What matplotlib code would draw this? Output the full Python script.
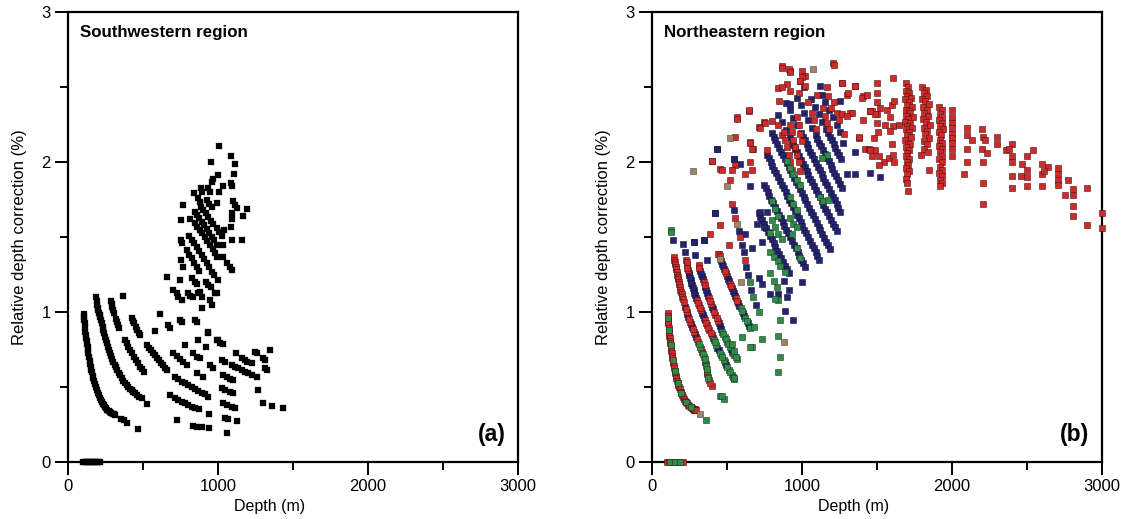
import matplotlib
matplotlib.use("Agg")
import matplotlib.pyplot as plt
from matplotlib.ticker import MultipleLocator

plt.rcParams['font.family'] = ['Liberation Sans', 'DejaVu Sans']

# ---------------- Southwestern region (a) ----------------
sw_curve1_depth = [105, 107, 109, 111, 113, 116, 118, 121, 124, 127, 130, 133, 136, 140, 144,
                   148, 151, 156, 160, 165, 169, 175, 180, 186, 191, 198, 204, 211, 218, 225,
                   232, 240, 247, 255, 263, 272, 280, 289, 297, 305, 313, 355, 372, 395, 469]
sw_curve1_value = [0.99, 0.97, 0.95, 0.925, 0.90, 0.87, 0.85, 0.83, 0.81, 0.79, 0.77, 0.745, 0.724, 0.70, 0.675,
                   0.655, 0.636, 0.615, 0.597, 0.576, 0.558, 0.537, 0.518, 0.498, 0.48, 0.462, 0.447, 0.43, 0.413, 0.40,
                   0.388, 0.378, 0.369, 0.36, 0.35, 0.342, 0.336, 0.329, 0.323, 0.318, 0.313, 0.287, 0.278, 0.262, 0.222]

sw_curve2_depth = [187, 190, 195, 199, 202, 206, 210, 213, 218, 224, 230, 235, 240, 246, 252,
                   258, 265, 272, 280, 287, 295, 302, 311, 320, 329, 338, 348, 358, 368, 380,
                   391, 402, 413, 424, 436, 449, 462, 476, 491, 529]
sw_curve2_value = [1.098, 1.075, 1.045, 1.025, 1.013, 0.995, 0.98, 0.969, 0.948, 0.924, 0.90, 0.88, 0.858, 0.836, 0.813,
                   0.791, 0.768, 0.746, 0.724, 0.705, 0.687, 0.669, 0.65, 0.632, 0.613, 0.596, 0.577, 0.558, 0.543, 0.527,
                   0.513, 0.501, 0.49, 0.48, 0.47, 0.458, 0.447, 0.436, 0.424, 0.387]

sw_curve3_depth = [284, 290, 296, 302, 307, 318, 324, 333, 342, 380, 391, 402, 413, 424, 440, 453, 467, 480, 494, 507, 369]
sw_curve3_value = [1.076, 1.056, 1.036, 1.013, 0.991, 0.955, 0.936, 0.913, 0.891, 0.813, 0.791, 0.769, 0.746, 0.724, 0.70,
                   0.68, 0.658, 0.636, 0.619, 0.602, 1.107]

sw_curve4_depth = [424, 432, 440, 451, 462, 471, 480, 529, 540, 551, 565, 580, 595, 609, 622, 636, 647, 658, 580]
sw_curve4_value = [0.958, 0.94, 0.924, 0.90, 0.88, 0.863, 0.847, 0.78, 0.763, 0.747, 0.73, 0.713, 0.696, 0.68, 0.663,
                   0.647, 0.63, 0.613, 0.876]

sw_mid_depth = [613, 669, 680, 747, 758, 847, 862, 936, 869, 780, 920, 991, 1013, 1031, 1120, 1247, 1258, 1347,
                1158, 1180, 1196, 1224, 1302, 1313, 702, 725, 747, 769, 791, 836, 858, 880, 947, 969, 1024, 1047,
                1091, 1113, 1136, 1158, 1180, 1202, 1224, 1258, 1313, 1324, 858, 902, 1036, 1058, 1080, 1102,
                713, 736, 758, 780, 802, 824, 847, 869, 891, 913, 936, 1024, 1047, 1080, 1102, 1264,
                680, 713, 736, 758, 780, 802, 824, 847, 876, 1036, 1058, 1091, 1113, 1302, 1358, 1436,
                942, 1047, 1069, 1124, 724, 836, 858, 891, 942, 1058, 933, 1002]
sw_mid_value = [0.987, 0.913, 0.891, 0.947, 0.936, 0.947, 0.931, 0.862, 0.813, 0.78, 0.769, 0.813, 0.796, 0.784, 0.724,
                0.736, 0.724, 0.747, 0.691, 0.68, 0.669, 0.658, 0.696, 0.68, 0.724, 0.705, 0.685, 0.665, 0.647, 0.724,
                0.702, 0.691, 0.647, 0.624, 0.68, 0.669, 0.647, 0.636, 0.624, 0.613, 0.602, 0.591, 0.58, 0.564, 0.624,
                0.613, 0.591, 0.564, 0.58, 0.564, 0.551, 0.547,
                0.569, 0.551, 0.536, 0.524, 0.513, 0.502, 0.487, 0.473, 0.462, 0.451, 0.436, 0.491, 0.48, 0.469, 0.458, 0.48,
                0.447, 0.424, 0.413, 0.402, 0.391, 0.38, 0.369, 0.362, 0.353, 0.391, 0.38, 0.369, 0.358, 0.391, 0.373, 0.358,
                0.32, 0.291, 0.284, 0.273, 0.28, 0.242, 0.236, 0.231, 0.224, 0.191, 0.869, 0.813]

sw_upper_depth = [1007, 1084, 1116, 956, 1107, 1002, 964, 958, 1084, 1093, 1036, 1004, 884, 891, 936, 947, 842, 869, 880,
                  924, 942, 958, 996, 1098, 1113, 1124, 1196, 1169, 764,
                  887, 902, 918, 936, 951, 969, 991, 1009, 1024,
                  847, 862, 876, 891, 907, 924, 940, 958, 973, 991,
                  1091, 1091, 751, 813,
                  847, 862, 880, 896, 913, 929, 947, 964, 980, 996,
                  1087, 1042, 1158, 1091, 753, 758,
                  809, 824, 840, 858, 873, 891, 907, 924, 940, 958, 973,
                  791, 809, 824, 840, 858, 873,
                  1036, 1062, 1080, 1091, 1036, 753, 769,
                  829, 847, 862, 920, 936, 951, 1002, 658, 747, 702, 724, 802, 813, 869, 891, 991,
                  736, 758, 836, 880, 891, 947, 958, 980]
sw_upper_value = [2.109, 2.04, 1.987, 1.998, 1.92, 1.913, 1.884, 1.869, 1.858, 1.84, 1.84, 1.802, 1.824, 1.802, 1.824,
                  1.802, 1.791, 1.758, 1.736, 1.747, 1.72, 1.698, 1.729, 1.742, 1.713, 1.691, 1.684, 1.64, 1.713,
                  1.702, 1.68, 1.658, 1.631, 1.609, 1.587, 1.558, 1.536, 1.507,
                  1.669, 1.647, 1.624, 1.602, 1.58, 1.553, 1.529, 1.502, 1.48, 1.447,
                  1.662, 1.618, 1.613, 1.618,
                  1.591, 1.569, 1.547, 1.524, 1.498, 1.476, 1.447, 1.42, 1.391, 1.369,
                  1.569, 1.547, 1.48, 1.48, 1.48, 1.462,
                  1.507, 1.48, 1.458, 1.431, 1.409, 1.38, 1.351, 1.324, 1.302, 1.269, 1.247,
                  1.413, 1.38, 1.358, 1.329, 1.302, 1.276,
                  1.447, 1.324, 1.302, 1.28, 1.369, 1.347, 1.302,
                  1.224, 1.202, 1.187, 1.202, 1.18, 1.164, 1.213, 1.236, 1.213, 1.147, 1.124, 1.124, 1.109, 1.124, 1.102, 1.124,
                  1.102, 1.08, 1.102, 1.136, 1.024, 1.08, 1.047, 1.124]

sw_zero_depth = [100, 110, 120, 130, 140, 150, 160, 170, 180, 190, 200, 210]
sw_zero_value = [0, 0, 0, 0, 0, 0, 0, 0, 0, 0, 0, 0]

# ---------------- Northeastern region (b) ----------------
ne_red_depth = [
    # shallow arcs
    104, 105, 106, 107, 108, 111, 113, 115, 116, 118, 120, 122, 125, 127, 129, 131, 133, 136, 138, 141, 145, 148,
    151, 155, 158, 162, 167, 171, 176, 180, 184, 190, 196, 201, 207, 213, 220, 226, 233, 241, 249, 257, 265, 273,
    280, 288, 296,
    144, 147, 151, 154, 158, 161, 165, 168, 171, 174, 178, 181, 184, 188, 193, 197, 202, 206, 211,
    231, 253, 280, 307, 333, 356, 367, 378, 400, 225, 247, 273, 300, 327, 359, 369, 389,
    229, 233, 240, 300, 313, 327, 353, 367, 382, 398, 231, 236, 306, 320, 360, 374, 390,
    311, 344, 380, 393, 422, 438, 316, 350, 386, 414, 430,
    444, 491, 518, 560, 533, 555, 588, 618, 438, 511, 450, 484, 524, 568,
    # upper-left scatter
    400, 456, 567, 645, 556, 556, 673, 656, 749, 711, 800, 867, 922, 1000, 1022, 1207, 900, 989, 1167, 845,
    866, 910, 921, 999, 988, 1021, 843, 866, 921, 977, 1210, 1265, 1299, 1354, 1409, 1465, 1498,
    644, 566, 721, 755, 655, 666, 766, 399, 466, 655, 621, 666, 533, 843, 866, 521, 388, 455,
    # stripes inside the central cloud
    877, 888, 899, 910, 921, 932, 921, 932, 943, 955, 966, 977, 988, 966, 977, 988, 999,
    1066, 1077, 1090, 1140, 1150, 1165, 1180, 1043, 1100, 1170, 1210, 1230, 1245, 1190,
    1265, 1321, 1377, 1421, 1466, 1488, 1455, 1488,
    # deep cloud
    1266, 1304, 1355, 1399, 1433, 1499, 1604, 1499, 1499, 1522, 1455, 1566, 1599, 1610, 1588, 1333, 1299, 1404,
    1499, 1555, 1606, 1644, 1282, 1382, 1477, 1504, 1588, 1599, 1444, 1455, 1510, 1544, 1510, 1577, 1610, 1606,
    1690, 1705, 1690, 1712, 1700, 1725, 1688, 1715, 1698, 1730, 1690, 1710, 1722, 1695, 1740, 1705, 1688, 1718,
    1700, 1733, 1692, 1712, 1697, 1725, 1688, 1708, 1720, 1693, 1712, 1700, 1690, 1715, 1698, 1708, 1690, 1712,
    1700, 1695, 1702, 1708,
    1802, 1825, 1810, 1832, 1800, 1822, 1845, 1808, 1830, 1815, 1840, 1805, 1825, 1850, 1812, 1835, 1820, 1845,
    1810, 1830, 1815, 1840, 1795, 1844,
    1915, 1930, 1918, 1935, 1912, 1930, 1918, 1938, 1912, 1928, 1920, 1935, 1912, 1930, 1918, 1935, 1915, 1930,
    1918, 1935, 1915, 1930, 1920, 1933, 1920,
    1999, 1999, 1999, 1999, 1999, 1999, 1999, 1999, 1999,
    2099, 2099, 2133, 2099, 2099, 2082, 2199, 2206, 2222, 2199, 2233, 2204, 2204, 2204, 2299, 2299, 2362, 2399,
    2377, 2399, 2399, 2399, 2399, 2466, 2499, 2499, 2499, 2499, 2459, 2539, 2599, 2637, 2599, 2615, 2599, 2704,
    2704, 2704, 2704, 2771, 2755, 2804, 2804, 2804, 2804, 2899, 2899, 3000, 3000,
    # zero-correction wells
    100, 115, 130, 145, 160, 175, 190, 205]
ne_red_value = [
    0.991, 0.975, 0.958, 0.942, 0.925, 0.891, 0.875, 0.858, 0.842, 0.825, 0.808, 0.792, 0.775, 0.758, 0.742, 0.725,
    0.708, 0.692, 0.675, 0.659, 0.642, 0.626, 0.609, 0.592, 0.576, 0.559, 0.542, 0.526, 0.512, 0.499, 0.485, 0.470,
    0.457, 0.444, 0.432, 0.420, 0.410, 0.400, 0.391, 0.382, 0.374, 0.366, 0.359, 0.353, 0.348, 0.346, 0.344,
    1.368, 1.35, 1.334, 1.318, 1.301, 1.285, 1.268, 1.25, 1.235, 1.218, 1.201, 1.185, 1.168, 1.15, 1.135, 1.118,
    1.102, 1.085, 1.068,
    1.002, 0.936, 0.869, 0.803, 0.736, 0.670, 0.603, 0.548, 0.504, 1.018, 0.952, 0.885, 0.819, 0.752, 0.653, 0.586, 0.526,
    1.35, 1.312, 1.279, 1.079, 1.046, 1.013, 0.947, 0.913, 0.880, 0.847, 1.331, 1.295, 1.062, 1.03, 0.93, 0.896, 0.863,
    1.312, 1.201, 1.091, 1.053, 0.980, 0.942, 1.293, 1.183, 1.072, 0.998, 0.961,
    1.39, 1.257, 1.190, 1.091, 1.72, 1.63, 1.50, 1.35, 1.385, 1.445, 1.373, 1.274, 1.174, 1.074,
    2.006, 1.955, 2.298, 2.342, 1.977, 2.17, 2.088, 2.132, 2.265, 2.232, 2.276, 2.641, 2.608, 2.608, 2.575, 2.663,
    2.52, 2.542, 2.497, 2.409,
    2.63, 2.62, 2.60, 2.57, 2.54, 2.51, 2.49, 2.50, 2.47, 2.46, 2.65, 2.53, 2.45, 2.51, 2.44, 2.34, 2.32,
    2.35, 2.29, 2.23, 2.26, 2.13, 2.09, 2.08, 2.01, 1.95, 2.00, 1.92, 1.95, 1.95, 2.25, 2.18, 1.88, 1.52, 1.58,
    2.20, 2.15, 2.10, 2.05, 2.00, 1.95, 2.25, 2.20, 2.15, 2.10, 2.05, 2.00, 1.94, 2.30, 2.25, 2.19, 2.14,
    2.33, 2.28, 2.22, 2.36, 2.31, 2.26, 2.22, 2.40, 2.45, 2.44, 2.40, 2.33, 2.28, 2.36,
    2.32, 2.33, 2.16, 2.09, 2.04, 2.08, 2.34, 2.32,
    2.53, 2.46, 2.51, 2.43, 2.45, 2.53, 2.56, 2.46, 2.40, 2.36, 2.34, 2.35, 2.38, 2.41, 2.30, 2.33, 2.31, 2.28,
    2.26, 2.25, 2.24, 2.25, 2.19, 2.17, 2.16, 2.20, 2.21, 2.12, 2.09, 2.08, 2.04, 2.00, 1.98, 2.03, 2.00, 2.05,
    2.53, 2.50, 2.47, 2.46, 2.44, 2.43, 2.42, 2.40, 2.38, 2.37, 2.35, 2.34, 2.33, 2.31, 2.30, 2.29, 2.27, 2.26,
    2.24, 2.23, 2.22, 2.20, 2.18, 2.17, 2.15, 2.13, 2.12, 2.10, 2.08, 2.06, 2.04, 2.02, 2.00, 1.98, 1.96, 1.94,
    1.92, 1.89, 1.86, 1.81,
    2.50, 2.48, 2.46, 2.44, 2.42, 2.41, 2.39, 2.37, 2.35, 2.33, 2.31, 2.29, 2.27, 2.25, 2.23, 2.21, 2.19, 2.16,
    2.14, 2.12, 2.09, 2.07, 2.05, 1.95,
    2.37, 2.35, 2.32, 2.30, 2.28, 2.26, 2.24, 2.22, 2.20, 2.18, 2.15, 2.13, 2.11, 2.09, 2.07, 2.04, 2.02, 2.00,
    1.97, 1.95, 1.93, 1.91, 1.88, 1.86, 1.84,
    2.35, 2.30, 2.26, 2.23, 2.19, 2.16, 2.13, 2.09, 2.04,
    2.23, 2.18, 2.15, 2.09, 2.00, 1.92, 2.22, 2.17, 2.15, 2.09, 2.06, 2.00, 1.86, 1.72, 2.17, 2.12, 2.08, 2.12,
    2.09, 2.04, 2.00, 1.91, 1.83, 1.99, 2.04, 1.95, 1.90, 1.84, 1.91, 2.08, 1.99, 1.97, 1.92, 1.94, 1.84, 1.96,
    1.92, 1.88, 1.85, 1.88, 1.78, 1.82, 1.78, 1.71, 1.64, 1.83, 1.58, 1.66, 1.56,
    0, 0, 0, 0, 0, 0, 0, 0]

# diagonal bands of the central cloud
ne_band_depth = [
    710, 722, 735, 747, 760, 772, 785, 797, 810, 822, 835, 847, 860, 872, 885, 897, 910,
    745, 757, 770, 782, 795, 807, 820, 832, 845, 857, 870, 882, 895, 907, 920, 932, 945, 957, 970, 982, 995, 1007, 1020,
    765, 777, 790, 802, 815, 827, 840, 852, 865, 877, 890, 902, 915, 927, 940, 952, 965, 977, 990, 1002, 1015, 1027,
    1040, 1052, 1065, 1077, 1090, 1102, 1115,
    797, 810, 822, 835, 847, 860, 872, 885, 897, 910, 922, 935, 947, 960, 972, 985, 997, 1010, 1022, 1035, 1047, 1060,
    1072, 1085, 1097, 1110, 1122, 1135, 1147, 1160, 1172, 1185,
    842, 867, 892, 917, 930, 942, 955, 967, 980, 992, 1005, 1017, 1030, 1042, 1055, 1067, 1080, 1092,
    1105, 1117, 1130, 1142, 1155, 1167, 1180, 1192, 1205, 1217, 1230,
    892, 917, 942, 967, 992, 1005, 1017, 1030, 1042, 1055, 1067, 1080, 1092, 1105, 1117, 1130,
    1142, 1155, 1167, 1180, 1192, 1205, 1217, 1230, 1242, 1255,
    965, 990, 1015, 1040, 1065, 1090, 1102, 1115, 1127, 1140, 1152, 1165, 1177, 1190,
    1202, 1215, 1227, 1240, 1252, 1265,
    1060, 1085, 1110, 1135, 1160, 1172, 1185, 1197, 1210, 1222, 1235, 1247, 1260,
    1130, 1155, 1180, 1205, 1230, 1255]
ne_band_value = [
    1.66, 1.635, 1.61, 1.585, 1.56, 1.535, 1.51, 1.485, 1.46, 1.435, 1.41, 1.385, 1.36, 1.335, 1.31, 1.285, 1.26,
    1.85, 1.825, 1.80, 1.775, 1.75, 1.725, 1.70, 1.675, 1.65, 1.625, 1.60, 1.575, 1.55, 1.525, 1.50, 1.475, 1.45,
    1.425, 1.40, 1.375, 1.35, 1.325, 1.30,
    2.05, 2.025, 2.00, 1.975, 1.95, 1.925, 1.90, 1.875, 1.85, 1.825, 1.80, 1.775, 1.75, 1.725, 1.70, 1.675, 1.65,
    1.625, 1.60, 1.575, 1.55, 1.525, 1.50, 1.475, 1.45, 1.425, 1.40, 1.375, 1.35,
    2.195, 2.17, 2.145, 2.12, 2.095, 2.07, 2.045, 2.02, 1.995, 1.97, 1.945, 1.92, 1.895, 1.87, 1.845, 1.82, 1.795,
    1.77, 1.745, 1.72, 1.695, 1.67, 1.645, 1.62, 1.595, 1.57, 1.545, 1.52, 1.495, 1.47, 1.445, 1.42,
    2.315, 2.265, 2.215, 2.165, 2.14, 2.115, 2.09, 2.065, 2.04, 2.015, 1.99, 1.965, 1.94, 1.915,
    1.89, 1.865, 1.84, 1.815, 1.79, 1.765, 1.74, 1.715, 1.69, 1.665, 1.64, 1.615, 1.59, 1.565, 1.54,
    2.395, 2.345, 2.295, 2.245, 2.195, 2.17, 2.145, 2.12, 2.095, 2.07, 2.045, 2.02, 1.995,
    1.97, 1.945, 1.92, 1.895, 1.87, 1.845, 1.82, 1.795, 1.77, 1.745, 1.72, 1.695, 1.67,
    2.43, 2.38, 2.33, 2.28, 2.23, 2.18, 2.155, 2.13, 2.105, 2.08, 2.055, 2.03,
    2.005, 1.98, 1.955, 1.93, 1.905, 1.88, 1.855, 1.83,
    2.42, 2.37, 2.32, 2.27, 2.22, 2.195, 2.17, 2.145, 2.12, 2.095, 2.07, 2.045, 2.02,
    2.45, 2.40, 2.35, 2.30, 2.25, 2.20]

ne_blue_depth = [
    # scatter around the cloud and in shallow arcs
    277, 344, 422, 433, 544, 588, 655, 721, 699, 621, 666, 732, 766, 744, 710, 732, 788, 843, 899, 888, 943, 999,
    877, 910, 433, 544, 1011, 1122, 922, 1255, 1276, 1355, 1298, 1355, 1455, 1522,
    140, 207, 278, 344, 222, 289, 367, 422, 284,
    220, 242, 267, 293, 236, 260, 287,
    249, 258, 267, 278, 289, 340, 444, 496, 244, 253, 262, 272, 283, 294, 333, 347, 405, 436, 487,
    322, 333, 356, 367, 407, 453, 536, 327, 338, 361, 373, 400, 445, 461, 527,
    467, 478, 504, 531, 544, 576, 607, 638, 461, 472, 497, 511, 537, 552, 583, 614, 647,
    544, 577, 599, 610, 627, 638, 662, 690]
ne_blue_value = [
    1.47, 1.48, 1.66, 2.09, 2.02, 1.99, 1.84, 1.67, 1.59, 1.52, 1.43, 1.47, 1.67, 1.57, 1.23, 1.19, 1.12, 1.12,
    1.10, 1.01, 0.95, 1.20, 1.21, 1.15, 2.088, 2.021, 2.497, 2.508, 2.387, 2.41, 2.13, 2.065, 1.92, 1.92, 1.93, 1.90,
    1.478, 1.456, 1.467, 1.478, 1.40, 1.378, 1.345, 1.662, 0.353,
    1.035, 0.969, 0.902, 0.836, 0.985, 0.919, 0.852,
    1.246, 1.212, 1.179, 1.146, 1.113, 0.980, 0.747, 0.648, 1.262, 1.229, 1.195, 1.162, 1.13, 1.096, 0.996, 0.963,
    0.83, 0.763, 0.664,
    1.274, 1.239, 1.164, 1.128, 1.017, 0.907, 0.736, 1.256, 1.22, 1.146, 1.11, 1.035, 0.925, 0.888, 0.753,
    1.323, 1.29, 1.223, 1.157, 1.124, 1.057, 0.991, 0.924, 1.34, 1.306, 1.24, 1.207, 1.14, 1.108, 1.04, 0.975, 0.908,
    1.68, 1.54, 1.45, 1.40, 1.30, 1.25, 1.15, 1.05]

ne_green_depth = [
    106, 112, 124, 137, 150, 170, 195, 225, 258, 360,
    320, 344, 362, 371, 456, 478, 313, 339, 350, 365, 374,
    413, 429, 460, 478, 511, 533, 549, 421, 452, 469, 503, 522, 541,
    469, 484, 500, 518, 549, 567, 476, 492, 509, 542, 558,
    591, 622, 656, 667, 600, 533, 544, 650, 675, 599, 630,
    127, 127,
    788, 788, 799, 821, 843, 799, 821, 843, 866, 810, 837, 854, 888, 788, 810, 832, 843, 821, 855, 843, 855, 843,
    710, 677, 732, 655, 544, 466,
    899, 921, 943, 966, 988, 1121, 1143, 1176, 1165, 1132, 921, 943, 965, 932, 965, 988, 921, 943, 966,
    120, 150, 185]
ne_green_value = [
    0.96, 0.88, 0.78, 0.68, 0.61, 0.53, 0.46, 0.40, 0.37, 0.282,
    0.769, 0.703, 0.637, 0.570, 0.437, 0.42, 0.786, 0.72, 0.686, 0.62, 0.559,
    0.814, 0.780, 0.714, 0.681, 0.614, 0.581, 0.555, 0.797, 0.73, 0.697, 0.631, 0.597, 0.568,
    0.869, 0.836, 0.803, 0.769, 0.714, 0.685, 0.853, 0.82, 0.786, 0.725, 0.70,
    1.024, 0.958, 0.891, 0.77, 0.835, 0.79, 0.74, 1.20, 1.10, 1.008, 0.941,
    1.549, 1.534,
    1.53, 1.40, 1.74, 1.69, 1.64, 1.61, 1.57, 1.52, 1.49, 1.37, 1.34, 1.31, 1.27, 1.26, 1.21, 1.17, 1.08, 1.09,
    0.95, 0.84, 0.70, 0.60,
    1.00, 0.90, 0.82, 0.77, 0.56, 0.44,
    2.01, 1.96, 1.92, 1.88, 1.85, 1.77, 1.74, 1.75, 2.05, 2.03, 1.63, 1.59, 1.57, 1.52, 1.43, 1.36, 1.77, 1.72, 1.68,
    0, 0, 0]

ne_tan_depth = [456, 322, 566, 500, 518, 1073, 877, 590, 270]
ne_tan_value = [1.356, 0.32, 1.59, 1.837, 2.161, 2.619, 0.80, 1.20, 1.94]

fig = plt.figure(figsize=(11.23, 5.19), dpi=100)
ax_a = fig.add_axes([68 / 1123, 57 / 519, 450 / 1123, 450 / 519])
ax_b = fig.add_axes([652 / 1123, 57 / 519, 450 / 1123, 450 / 519])

MS = 13


def style_axes(ax):
    ax.set_xlim(0, 3000)
    ax.set_ylim(0, 3)
    ax.xaxis.set_major_locator(MultipleLocator(1000))
    ax.xaxis.set_minor_locator(MultipleLocator(500))
    ax.yaxis.set_major_locator(MultipleLocator(1))
    ax.yaxis.set_minor_locator(MultipleLocator(0.5))
    ax.set_xticks([0, 1000, 2000, 3000])
    ax.set_xticklabels(['0', '1000', '2000', '3000'])
    for sp in ax.spines.values():
        sp.set_linewidth(1.6)
    ax.tick_params(which='major', direction='out', length=9.5, width=1.4, labelsize=12, pad=3)
    ax.tick_params(which='minor', direction='out', length=5.5, width=1.4)
    ax.tick_params(axis='x', which='both', top=False)
    ax.tick_params(axis='y', which='both', right=False)
    ax.set_xlabel('Depth (m)', fontsize=11.5)
    ax.xaxis.set_label_coords(0.447, -0.083)
    ax.set_ylabel('Relative depth correction (%)', fontsize=12)
    ax.yaxis.set_label_coords(-0.092, 0.5)


def squares(ax, x, y, face, edge, lw=0.4, z=3):
    ax.scatter(x, y, s=MS, marker='s', c=face, edgecolors=edge, linewidths=lw, clip_on=False, zorder=z)


# panel (a)
for d, v in [(sw_curve1_depth, sw_curve1_value), (sw_curve2_depth, sw_curve2_value),
             (sw_curve3_depth, sw_curve3_value), (sw_curve4_depth, sw_curve4_value),
             (sw_mid_depth, sw_mid_value), (sw_upper_depth, sw_upper_value),
             (sw_zero_depth, sw_zero_value)]:
    squares(ax_a, d, v, 'black', 'black', lw=0.2)
style_axes(ax_a)
ax_a.text(0.027, 0.972, 'Southwestern region', transform=ax_a.transAxes, fontsize=12.2,
          fontweight='bold', va='top', ha='left')
ax_a.text(0.972, 0.035, '(a)', transform=ax_a.transAxes, fontsize=16.5,
          fontweight='bold', va='bottom', ha='right')

# panel (b)
squares(ax_b, ne_band_depth, ne_band_value, '#24246e', '#10103f', z=3)
squares(ax_b, ne_blue_depth, ne_blue_value, '#24246e', '#10103f', z=3)
squares(ax_b, ne_red_depth, ne_red_value, '#cf2a2a', '#4a1010', z=4)
squares(ax_b, ne_green_depth, ne_green_value, '#2f8b47', '#153d20', z=5)
squares(ax_b, ne_tan_depth, ne_tan_value, '#9c8667', '#4d4030', z=6)
style_axes(ax_b)
ax_b.text(0.027, 0.972, 'Northeastern region', transform=ax_b.transAxes, fontsize=12.2,
          fontweight='bold', va='top', ha='left')
ax_b.text(0.972, 0.035, '(b)', transform=ax_b.transAxes, fontsize=16.5,
          fontweight='bold', va='bottom', ha='right')

fig.savefig('out.png', dpi=100)
